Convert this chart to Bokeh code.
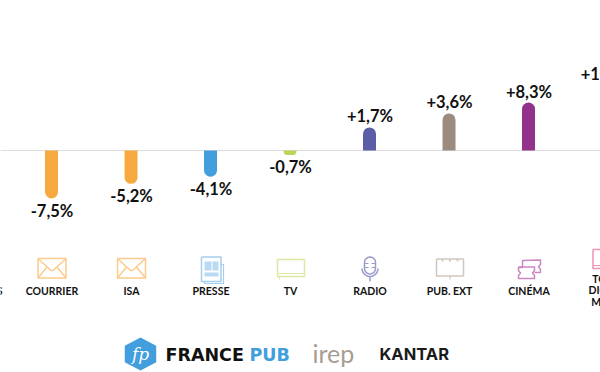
from bokeh.plotting import figure
from bokeh.embed import file_html
from bokeh.resources import INLINE
from bokeh.core.properties import value
from bokeh.models import Range1d
import math

# --- data ---------------------------------------------------------------
categories = ["ANNUAIRES", "COURRIER", "ISA", "PRESSE", "TV", "RADIO", "PUB. EXT", "CINÉMA", "TOTAL\nDIGITAL\nMÉDIA"]
labels = ["-7,5%", "-5,2%", "-4,1%", "-0,7%", "+1,7%", "+3,6%", "+8,3%", "+10,5%"]
# drawn heights (the source chart is not to scale above zero)
heights = [-7.5, -5.2, -4.1, -0.7, 3.6, 5.8, 7.5, 10.3]
colors = ["#F5A93F", "#F5A93F", "#439EDE", "#B9D55A", "#5B5EA6", "#9B8C7F", "#93328A", "#D9577F"]

W, H = 600, 372
STEP = 79.5
X0 = 51.5
UNIT = 6.4
BASE = 150

def X(px):
    return (px - X0) / STEP

def Y(py):
    return (BASE - py) / UNIT

p = figure(width=W, height=H, output_backend="svg", toolbar_location=None,
           x_range=Range1d(X(0), X(W)), y_range=Range1d(Y(H), Y(0)),
           min_border=0, outline_line_color=None, background_fill_color="white",
           border_fill_color="white")
p.xaxis.visible = False
p.yaxis.visible = False
p.grid.visible = False

FONT = value("Lato")
idx = list(range(len(heights)))

# baseline
p.segment(x0=[X(0)], x1=[X(W)], y0=[0], y1=[0], line_color="#DDDDDD", line_width=1.2)

# bars
for i, h, c in zip(idx, heights, colors):
    k = min(7, int(abs(h) * UNIT))
    r = (k, k, 0, 0) if h > 0 else (0, 0, k, k)
    p.vbar(x=[i - 0.006], width=13 / STEP, bottom=[min(h, 0)], top=[max(h, 0)],
           fill_color=c, line_color=None, border_radius=r)

# value labels
for i, h, t in zip(idx, heights, labels):
    p.text(x=[i], y=[h], text=[t], text_font=FONT, text_font_style="bold",
           text_font_size="16.5px", text_color="#111111", text_align="center",
           text_baseline="middle", y_offset=12 if h < 0 else -11)

# category labels
for i, name in enumerate(categories):
    lines = name.split("\n")
    top = 290 - (len(lines) - 1) * 5.5 - (1 if len(lines) > 1 else 0)
    for j, line in enumerate(lines):
        p.text(x=[i - 1], y=[Y(top + j * 11.5)], text=[line], text_font=FONT,
               text_font_style="bold", text_font_size="10.5px", text_color="#111111",
               text_align="center", text_baseline="middle")

# --- icons --------------------------------------------------------------
def poly(pts, color, w=1.5, fill=None):
    xs = [X(a) for a, b in pts]
    ys = [Y(b) for a, b in pts]
    if fill:
        p.patch(xs, ys, fill_color=fill, line_color=None)
    else:
        p.line(xs, ys, line_color=color, line_width=w, line_join="round")

def rect(x0, y0, x1, y1, color, w=1.5, fill=None):
    poly([(x0, y0), (x1, y0), (x1, y1), (x0, y1), (x0, y0)], color, w, fill)

def envelope(cx):
    c = "#FBCB8B"
    rect(cx - 14, 258, cx + 14, 277.5, c)
    poly([(cx - 14, 258), (cx - 1, 270), (cx + 1, 270), (cx + 14, 258)], c)
    poly([(cx - 14, 277.5), (cx - 5, 266.5)], c)
    poly([(cx + 14, 277.5), (cx + 5, 266.5)], c)

envelope(51.5)
envelope(131)

# press
c = "#A5CFEF"
rect(201, 256.5, 220.5, 281, c, 1.5)
poly([(220.5, 264), (223, 264), (223, 283), (204, 283), (204, 281)], c, 1.2)
rect(204, 261, 211, 270, "#B9DAF3", fill="#B9DAF3")
rect(212, 261, 218, 270, "#B9DAF3", fill="#B9DAF3")
rect(204, 272, 218, 276, "#B9DAF3", fill="#B9DAF3")

# tv
c = "#DCE8A6"
rect(277, 259, 304, 276, c)
poly([(277, 273), (304, 273)], c, 1)
poly([(279, 276), (279, 279)], c, 1)

# radio
c = "#9A9BCB"
theta = [math.pi * k / 12 for k in range(13)]
cap = [(369.5 - 5.5 * math.cos(t), 262 - 5.5 * math.sin(t)) for t in theta]
cap += [(369.5 + 5.5 * math.cos(t), 268 + 5.5 * math.sin(t)) for t in theta]
poly(cap + cap[:1], c)
arc = [(369.5 - 8 * math.cos(t), 268 + 8 * math.sin(t)) for t in theta]
poly(arc, c)
poly([(369.5, 276), (369.5, 281)], c)
poly([(364, 263), (368, 263)], c, 1)
poly([(371, 263), (375, 263)], c, 1)
poly([(364, 267), (368, 267)], c, 1)
poly([(371, 267), (375, 267)], c, 1)

# billboard
c = "#CFC8BF"
rect(436, 258.5, 463, 275.5, c)
poly([(449.5, 275.5), (449.5, 279)], c, 1.2)
for dx in (442, 449.5, 457):
    poly([(dx, 258.5), (dx, 261)], c, 1.8)

# cinema
c = "#CB86C3"
poly([(518, 267), (522, 267), (522, 260), (540, 259.5), (540, 264), (538, 266), (540, 269),
      (540, 272), (534, 272)], c)
poly([(518, 266.5), (534, 266.5), (534, 270), (532, 272.5), (534, 275), (534, 278),
      (518, 278), (518, 275), (520, 272.5), (518, 270), (518, 266.5)], c)

# total digital
c = "#EE93B0"
rect(592.5, 249, 612, 268, c)
poly([(592.5, 265), (612, 265)], c, 1)

# --- logos --------------------------------------------------------------
hx, hy, hr = 140, 353.5, 16.5
hexa = [(hx + hr * math.sin(math.pi * k / 3) * 1.1, hy - hr * math.cos(math.pi * k / 3)) for k in range(6)]
poly(hexa, None, fill="#439EDE")
p.text(x=[X(hx)], y=[Y(hy)], text=["fp"], text_font=value("DejaVu Serif"),
       text_font_style="italic", text_font_size="17px", text_color="white",
       text_align="center", text_baseline="middle")
p.text(x=[X(165)], y=[Y(354)], text=["FRANCE"], text_font=value("DejaVu Sans"), text_font_style="bold",
       text_font_size="17.5px", text_color="#111111", text_align="left", text_baseline="middle")
p.text(x=[X(249)], y=[Y(354)], text=["PUB"], text_font=value("DejaVu Sans"), text_font_style="bold",
       text_font_size="17.5px", text_color="#439EDE", text_align="left", text_baseline="middle")
p.text(x=[X(312)], y=[Y(352)], text=["irep"], text_font=value("Lato"),
       text_font_size="25px", text_color="#A89C92", text_align="left", text_baseline="middle")
p.text(x=[X(379)], y=[Y(353.5)], text=["KANTAR"], text_font=value("Inter"), text_font_style="bold",
       text_font_size="16.5px", text_color="#1A1A1A", text_align="left", text_baseline="middle")

open("out.html", "w").write(file_html(p, INLINE))
